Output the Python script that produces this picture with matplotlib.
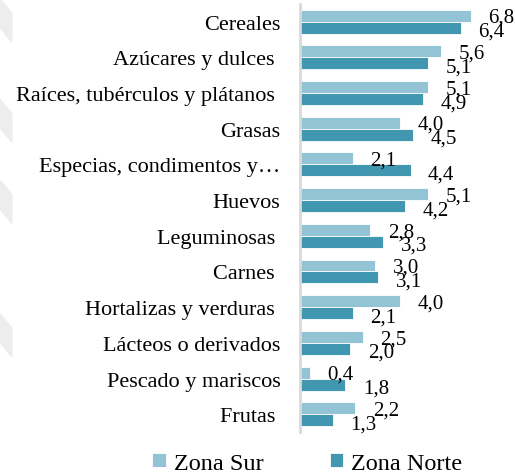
import numpy as np
import matplotlib.pyplot as plt
from matplotlib.patches import Polygon

# Categories (top to bottom) and values per zone
categorias = ['Cereales', 'Azúcares y dulces ', 'Raíces, tubérculos y plátanos ', 'Grasas',
              'Especias, condimentos y…', 'Huevos', 'Leguminosas ', 'Carnes ',
              'Hortalizas y verduras ', 'Lácteos o derivados', 'Pescado y mariscos', 'Frutas ']
zona_sur = [6.8, 5.6, 5.1, 4.0, 2.1, 5.1, 2.8, 3.0, 4.0, 2.5, 0.4, 2.2]
zona_norte = [6.4, 5.1, 4.9, 4.5, 4.4, 4.2, 3.3, 3.1, 2.1, 2.0, 1.8, 1.3]

color_sur = '#93C4D5'
color_norte = '#4197AF'

plt.rcParams['font.family'] = ['Liberation Serif', 'DejaVu Serif']

fig = plt.figure(figsize=(5.15, 4.77), dpi=100)

# faint watermark shapes on the left edge
for y0 in [1.0, 0.79, 0.62, 0.34]:
    fig.patches.append(Polygon([(0, y0), (0.023, y0 - 0.03), (0.023, y0 - 0.09), (0, y0 - 0.06)],
                               closed=True, transform=fig.transFigure, color='#EDEDED', zorder=0))

ax = fig.add_axes([0.5825, 0.092, 0.40, 0.898])

y = np.arange(len(categorias))
h = 0.335
ax.barh(y - h / 2, zona_sur, height=h, color=color_sur, edgecolor='white', linewidth=0.6, label='Zona Sur')
ax.barh(y + h / 2, zona_norte, height=h, color=color_norte, edgecolor='white', linewidth=0.6, label='Zona Norte')

for i, (s, n) in enumerate(zip(zona_sur, zona_norte)):
    ax.text(s + 0.7, i - h / 2 + 0.05, f'{s:.1f}'.replace('.', ','), va='center', ha='left', fontsize=15)
    ax.text(n + 0.7, i + h / 2 + 0.1, f'{n:.1f}'.replace('.', ','), va='center', ha='left', fontsize=15)

ax.set_ylim(len(categorias) - 0.5, -0.5)
ax.set_xlim(0, 8.2)
ax.set_yticks(y)
ax.set_yticklabels(categorias, fontsize=16)
ax.tick_params(axis='y', length=0, pad=14)
ax.set_xticks([])
for side in ['top', 'right', 'bottom']:
    ax.spines[side].set_visible(False)
ax.spines['left'].set_color('#D9D9D9')
ax.spines['left'].set_linewidth(2)

fig.legend(loc='center', bbox_to_anchor=(0.597, 0.027), ncol=2, frameon=False, fontsize=17.5,
           handlelength=0.55, handleheight=0.55, handletextpad=0.35, columnspacing=2.7)

fig.savefig('out.png', dpi=100)
